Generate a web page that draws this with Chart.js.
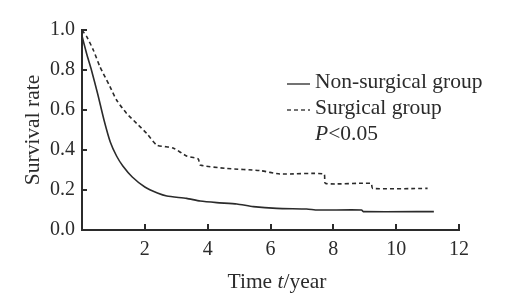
<!DOCTYPE html>
<html>
<head>
<meta charset="utf-8">
<script src="https://cdn.jsdelivr.net/npm/chart.js@4/dist/chart.umd.min.js"></script>
<style>
  html, body { margin: 0; padding: 0; background: #fff; }
  #wrap { width: 526px; height: 301px; }
</style>
</head>
<body>
<div id="wrap"><canvas id="kmChart"></canvas></div>
<script>
// Survival curves (time in years, survival rate)
const nonSurgicalTime = [0, 0.15, 0.3, 0.5, 0.7, 0.9, 1.1, 1.3, 1.6, 2.0, 2.4, 2.7, 3.33, 3.76, 4.29, 4.93, 5.45, 6.2, 7.15, 7.5, 8.9, 8.95, 11.2];
const nonSurgicalRate = [0.97, 0.88, 0.80, 0.68, 0.55, 0.44, 0.37, 0.32, 0.265, 0.215, 0.185, 0.17, 0.158, 0.145, 0.137, 0.13, 0.117, 0.108, 0.105, 0.10, 0.10, 0.092, 0.092];

const surgicalTime = [0, 0.15, 0.36, 0.57, 0.89, 1.1, 1.42, 1.74, 2.06, 2.38, 2.9, 3.33, 3.7, 3.76, 4.6, 5.67, 6.3, 7.7, 7.75, 9.2, 9.25, 11.0];
const surgicalRate = [1.0, 0.967, 0.90, 0.817, 0.717, 0.65, 0.583, 0.533, 0.483, 0.425, 0.41, 0.37, 0.355, 0.325, 0.308, 0.297, 0.28, 0.28, 0.233, 0.233, 0.208, 0.208];

const xTicks = [2, 4, 6, 8, 10, 12];
const yTicks = [0.0, 0.2, 0.4, 0.6, 0.8, 1.0];

const seriesNames = ['Non-surgical group', 'Surgical group'];
const pValueText = ['P', '<0.05'];
const xTitleParts = ['Time ', 't', '/year'];

const serif = '"Liberation Serif", "DejaVu Serif", serif';
const ink = '#2b2b2b';

function toPoints(xs, ys) {
    return xs.map((x, i) => ({ x: x, y: ys[i] }));
}

// draws mixed upright/italic text runs starting at x
function drawRuns(ctx, runs, x, y, size) {
    runs.forEach(r => {
        ctx.font = (r.italic ? 'italic ' : '') + size + 'px ' + serif;
        ctx.fillText(r.text, x, y);
        x += ctx.measureText(r.text).width;
    });
}

function runsWidth(ctx, runs, size) {
    let w = 0;
    runs.forEach(r => {
        ctx.font = (r.italic ? 'italic ' : '') + size + 'px ' + serif;
        w += ctx.measureText(r.text).width;
    });
    return w;
}

// inward tick marks on both axes
const innerTicks = {
    id: 'innerTicks',
    afterDatasetsDraw(chart) {
        const ctx = chart.ctx;
        const xs = chart.scales.x;
        const ys = chart.scales.y;
        const area = chart.chartArea;
        ctx.save();
        ctx.strokeStyle = ink;
        ctx.lineWidth = 2;
        xTicks.forEach(v => {
            const px = Math.round(xs.getPixelForValue(v));
            ctx.beginPath();
            ctx.moveTo(px, area.bottom);
            ctx.lineTo(px, area.bottom - 6);
            ctx.stroke();
        });
        yTicks.forEach(v => {
            const py = Math.round(ys.getPixelForValue(v));
            ctx.beginPath();
            ctx.moveTo(area.left, py);
            ctx.lineTo(area.left + 5, py);
            ctx.stroke();
        });
        ctx.restore();
    }
};

// legend block, p value and x axis title (italic parts)
const textBlock = {
    id: 'textBlock',
    afterDraw(chart) {
        const ctx = chart.ctx;
        const lx = 287, tx = 315;
        const rows = [82, 108];
        ctx.save();
        ctx.font = '21.5px ' + serif;
        ctx.textBaseline = 'middle';
        ctx.fillStyle = ink;
        ctx.strokeStyle = '#444';
        ctx.lineWidth = 1.5;
        chart.data.datasets.forEach((ds, i) => {
            ctx.setLineDash(ds.borderDash || []);
            ctx.beginPath();
            ctx.moveTo(lx, rows[i] + 2);
            ctx.lineTo(lx + 23, rows[i] + 2);
            ctx.stroke();
            ctx.fillText(ds.label, tx, rows[i]);
        });
        ctx.setLineDash([]);
        drawRuns(ctx, [{ text: pValueText[0], italic: true }, { text: pValueText[1] }], tx, 134, 21.5);

        const titleRuns = [{ text: xTitleParts[0] }, { text: xTitleParts[1], italic: true }, { text: xTitleParts[2] }];
        const w = runsWidth(ctx, titleRuns, 21.5);
        drawRuns(ctx, titleRuns, 277 - w / 2, 282, 21.5);
        ctx.restore();
    }
};

new Chart(document.getElementById('kmChart'), {
    type: 'line',
    data: {
        datasets: [
            {
                label: seriesNames[0],
                data: toPoints(nonSurgicalTime, nonSurgicalRate),
                borderColor: ink,
                borderWidth: 1.6,
                pointRadius: 0,
                tension: 0.2,
                fill: false
            },
            {
                label: seriesNames[1],
                data: toPoints(surgicalTime, surgicalRate),
                borderColor: ink,
                borderWidth: 1.6,
                borderDash: [4, 3],
                pointRadius: 0,
                tension: 0.2,
                fill: false
            }
        ]
    },
    options: {
        responsive: true,
        maintainAspectRatio: false,
        animation: false,
        layout: { padding: { left: 20, right: 67, top: 30, bottom: 6 } },
        plugins: {
            legend: { display: false },
            tooltip: { enabled: false }
        },
        scales: {
            x: {
                type: 'linear',
                min: 0,
                max: 12,
                afterBuildTicks: s => { s.ticks = xTicks.map(v => ({ value: v })); },
                ticks: {
                    color: ink,
                    padding: 8,
                    maxRotation: 0,
                    font: { family: serif, size: 20 }
                },
                grid: { display: false, drawTicks: false },
                border: { display: true, color: ink, width: 2 },
                afterFit: s => { s.height = 65; }
            },
            y: {
                type: 'linear',
                min: 0,
                max: 1,
                afterBuildTicks: s => { s.ticks = yTicks.map(v => ({ value: v })); },
                ticks: {
                    color: ink,
                    padding: 7,
                    font: { family: serif, size: 20 },
                    callback: v => Number(v).toFixed(1)
                },
                grid: { display: false, drawTicks: false },
                border: { display: true, color: ink, width: 2 },
                title: {
                    display: true,
                    text: 'Survival rate',
                    color: ink,
                    font: { family: serif, size: 21.5 },
                    padding: { top: 0, bottom: 2 }
                },
                afterFit: s => { s.width = 62; }
            }
        }
    },
    plugins: [innerTicks, textBlock]
});
</script>
</body>
</html>
